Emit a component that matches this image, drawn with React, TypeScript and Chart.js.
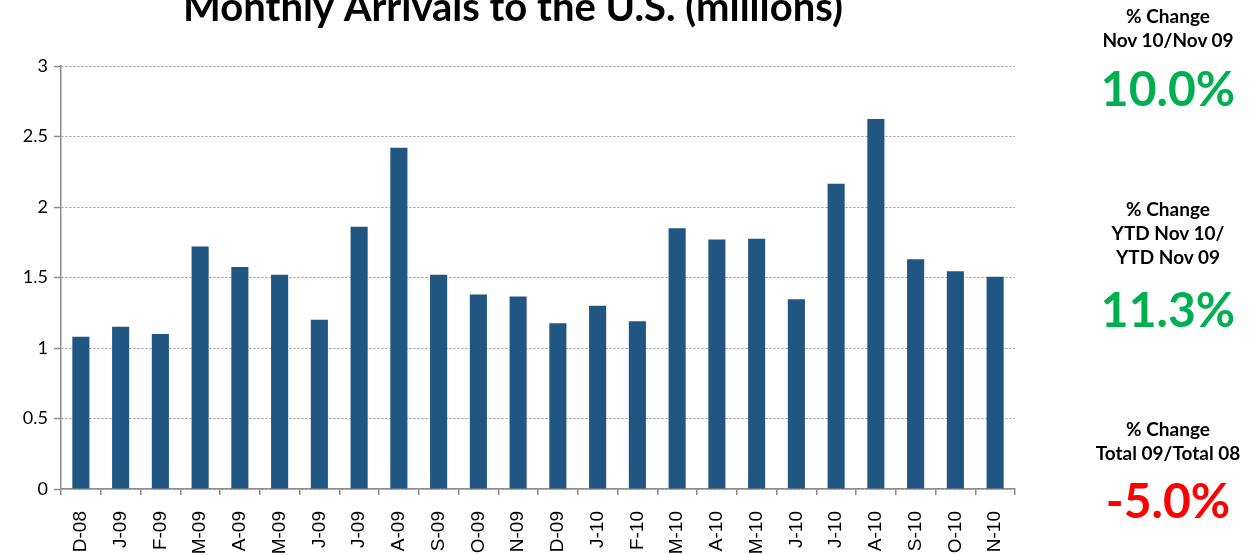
import React, { useEffect, useRef } from "react";
import { Chart, registerables } from "chart.js";

Chart.register(...registerables);

const categories = ["D-08","J-09","F-09","M-09","A-09","M-09","J-09","J-09","A-09","S-09","O-09","N-09","D-09","J-10","F-10","M-10","A-10","M-10","J-10","J-10","A-10","S-10","O-10","N-10"];
const arrivals = [1.08,1.15,1.10,1.72,1.575,1.52,1.20,1.86,2.42,1.52,1.38,1.365,1.175,1.30,1.19,1.85,1.77,1.775,1.345,2.165,2.625,1.63,1.545,1.505];
const yTicks = [0, 0.5, 1, 1.5, 2, 2.5, 3];
const title = "Monthly Arrivals to the U.S. (millions)";

const panels = [
  { lines: ["% Change", "Nov 10/Nov 09"], value: "10.0%", color: "#00B050" },
  { lines: ["% Change", "YTD Nov 10/", "YTD Nov 09"], value: "11.3%", color: "#00B050" },
  { lines: ["% Change", "Total 09/Total 08"], value: "-5.0%", color: "#FF0000" },
];
const panelTops = [4, 197, 417];
const valueTops = [62, 283, 474];

const W = 1255;
const H = 555;
const AREA_LEFT = 61;
const AREA_RIGHT = 1015;
const AREA_TOP = 66;
const AREA_BOTTOM = 489;

export default function App() {
  const ref = useRef<HTMLCanvasElement | null>(null);

  useEffect(() => {
    if (!ref.current) return;
    const titlePlugin = {
      id: "manualTitle",
      afterDraw(chart: any) {
        const ctx = chart.ctx;
        ctx.save();
        ctx.font = "bold 40px Lato";
        ctx.fillStyle = "#000";
        ctx.textAlign = "center";
        ctx.textBaseline = "alphabetic";
        ctx.fillText(title, 513, 21);
        ctx.restore();
      },
    };
    const chart = new Chart(ref.current, {
      type: "bar",
      data: {
        labels: categories,
        datasets: [
          {
            data: arrivals,
            backgroundColor: "#215582",
            borderWidth: 0,
            barPercentage: 0.43,
            categoryPercentage: 1,
          },
        ],
      },
      plugins: [titlePlugin],
      options: {
        responsive: false,
        animation: false,
        layout: {
          padding: { top: AREA_TOP, right: W - AREA_RIGHT, left: 0, bottom: 0 },
        },
        plugins: {
          legend: { display: false },
          title: { display: false },
          tooltip: { enabled: false },
        },
        scales: {
          x: {
            offset: true,
            grid: {
              display: true,
              drawOnChartArea: false,
              drawTicks: true,
              tickLength: 6,
              color: "#8c8c8c",
              lineWidth: 1.5,
              offset: true,
            },
            border: { display: true, color: "#8c8c8c", width: 1.5 },
            ticks: {
              autoSkip: false,
              minRotation: 90,
              maxRotation: 90,
              padding: 16,
              color: "#000",
              font: { family: "Liberation Sans", size: 19 },
            },
            afterFit(scale: any) {
              scale.height = H - AREA_BOTTOM;
            },
          },
          y: {
            min: 0,
            max: 3,
            afterBuildTicks(scale: any) {
              scale.ticks = yTicks.map((v) => ({ value: v }));
            },
            grid: {
              color: "#9a9a9a",
              lineWidth: 1,
              tickLength: 7,
              drawTicks: true,
              tickColor: "#8c8c8c",
              tickWidth: 1.5,
            } as any,
            border: { display: true, color: "#8c8c8c", width: 1.5, dash: [2, 2] } as any,
            ticks: {
              padding: 6,
              color: "#000",
              font: { family: "Lato", size: 18 },
              callback: (v: any) => String(v),
            },
            afterFit(scale: any) {
              scale.width = AREA_LEFT;
            },
          },
        },
      },
    });
    return () => chart.destroy();
  }, []);

  return (
    <div style={{ position: "fixed", left: 0, top: 0, width: W, height: H, background: "#fff", overflow: "hidden" }}>
      <canvas ref={ref} width={W} height={H} style={{ display: "block", width: W, height: H }} />
      {panels.map((p, i) => (
        <div key={i}>
          <div
            style={{
              position: "absolute",
              left: 1075,
              width: 186,
              top: panelTops[i],
              textAlign: "center",
              fontFamily: "Lato",
              fontWeight: 700,
              fontSize: 19,
              lineHeight: "24px",
              color: "#000",
            }}
          >
            {p.lines.map((l, j) => (
              <div key={j}>{l}</div>
            ))}
          </div>
          <div
            style={{
              position: "absolute",
              left: 1075,
              width: 186,
              top: valueTops[i],
              textAlign: "center",
              fontFamily: "Lato",
              fontWeight: 700,
              fontSize: 48,
              lineHeight: "52px",
              color: p.color,
            }}
          >
            {p.value}
          </div>
        </div>
      ))}
    </div>
  );
}
